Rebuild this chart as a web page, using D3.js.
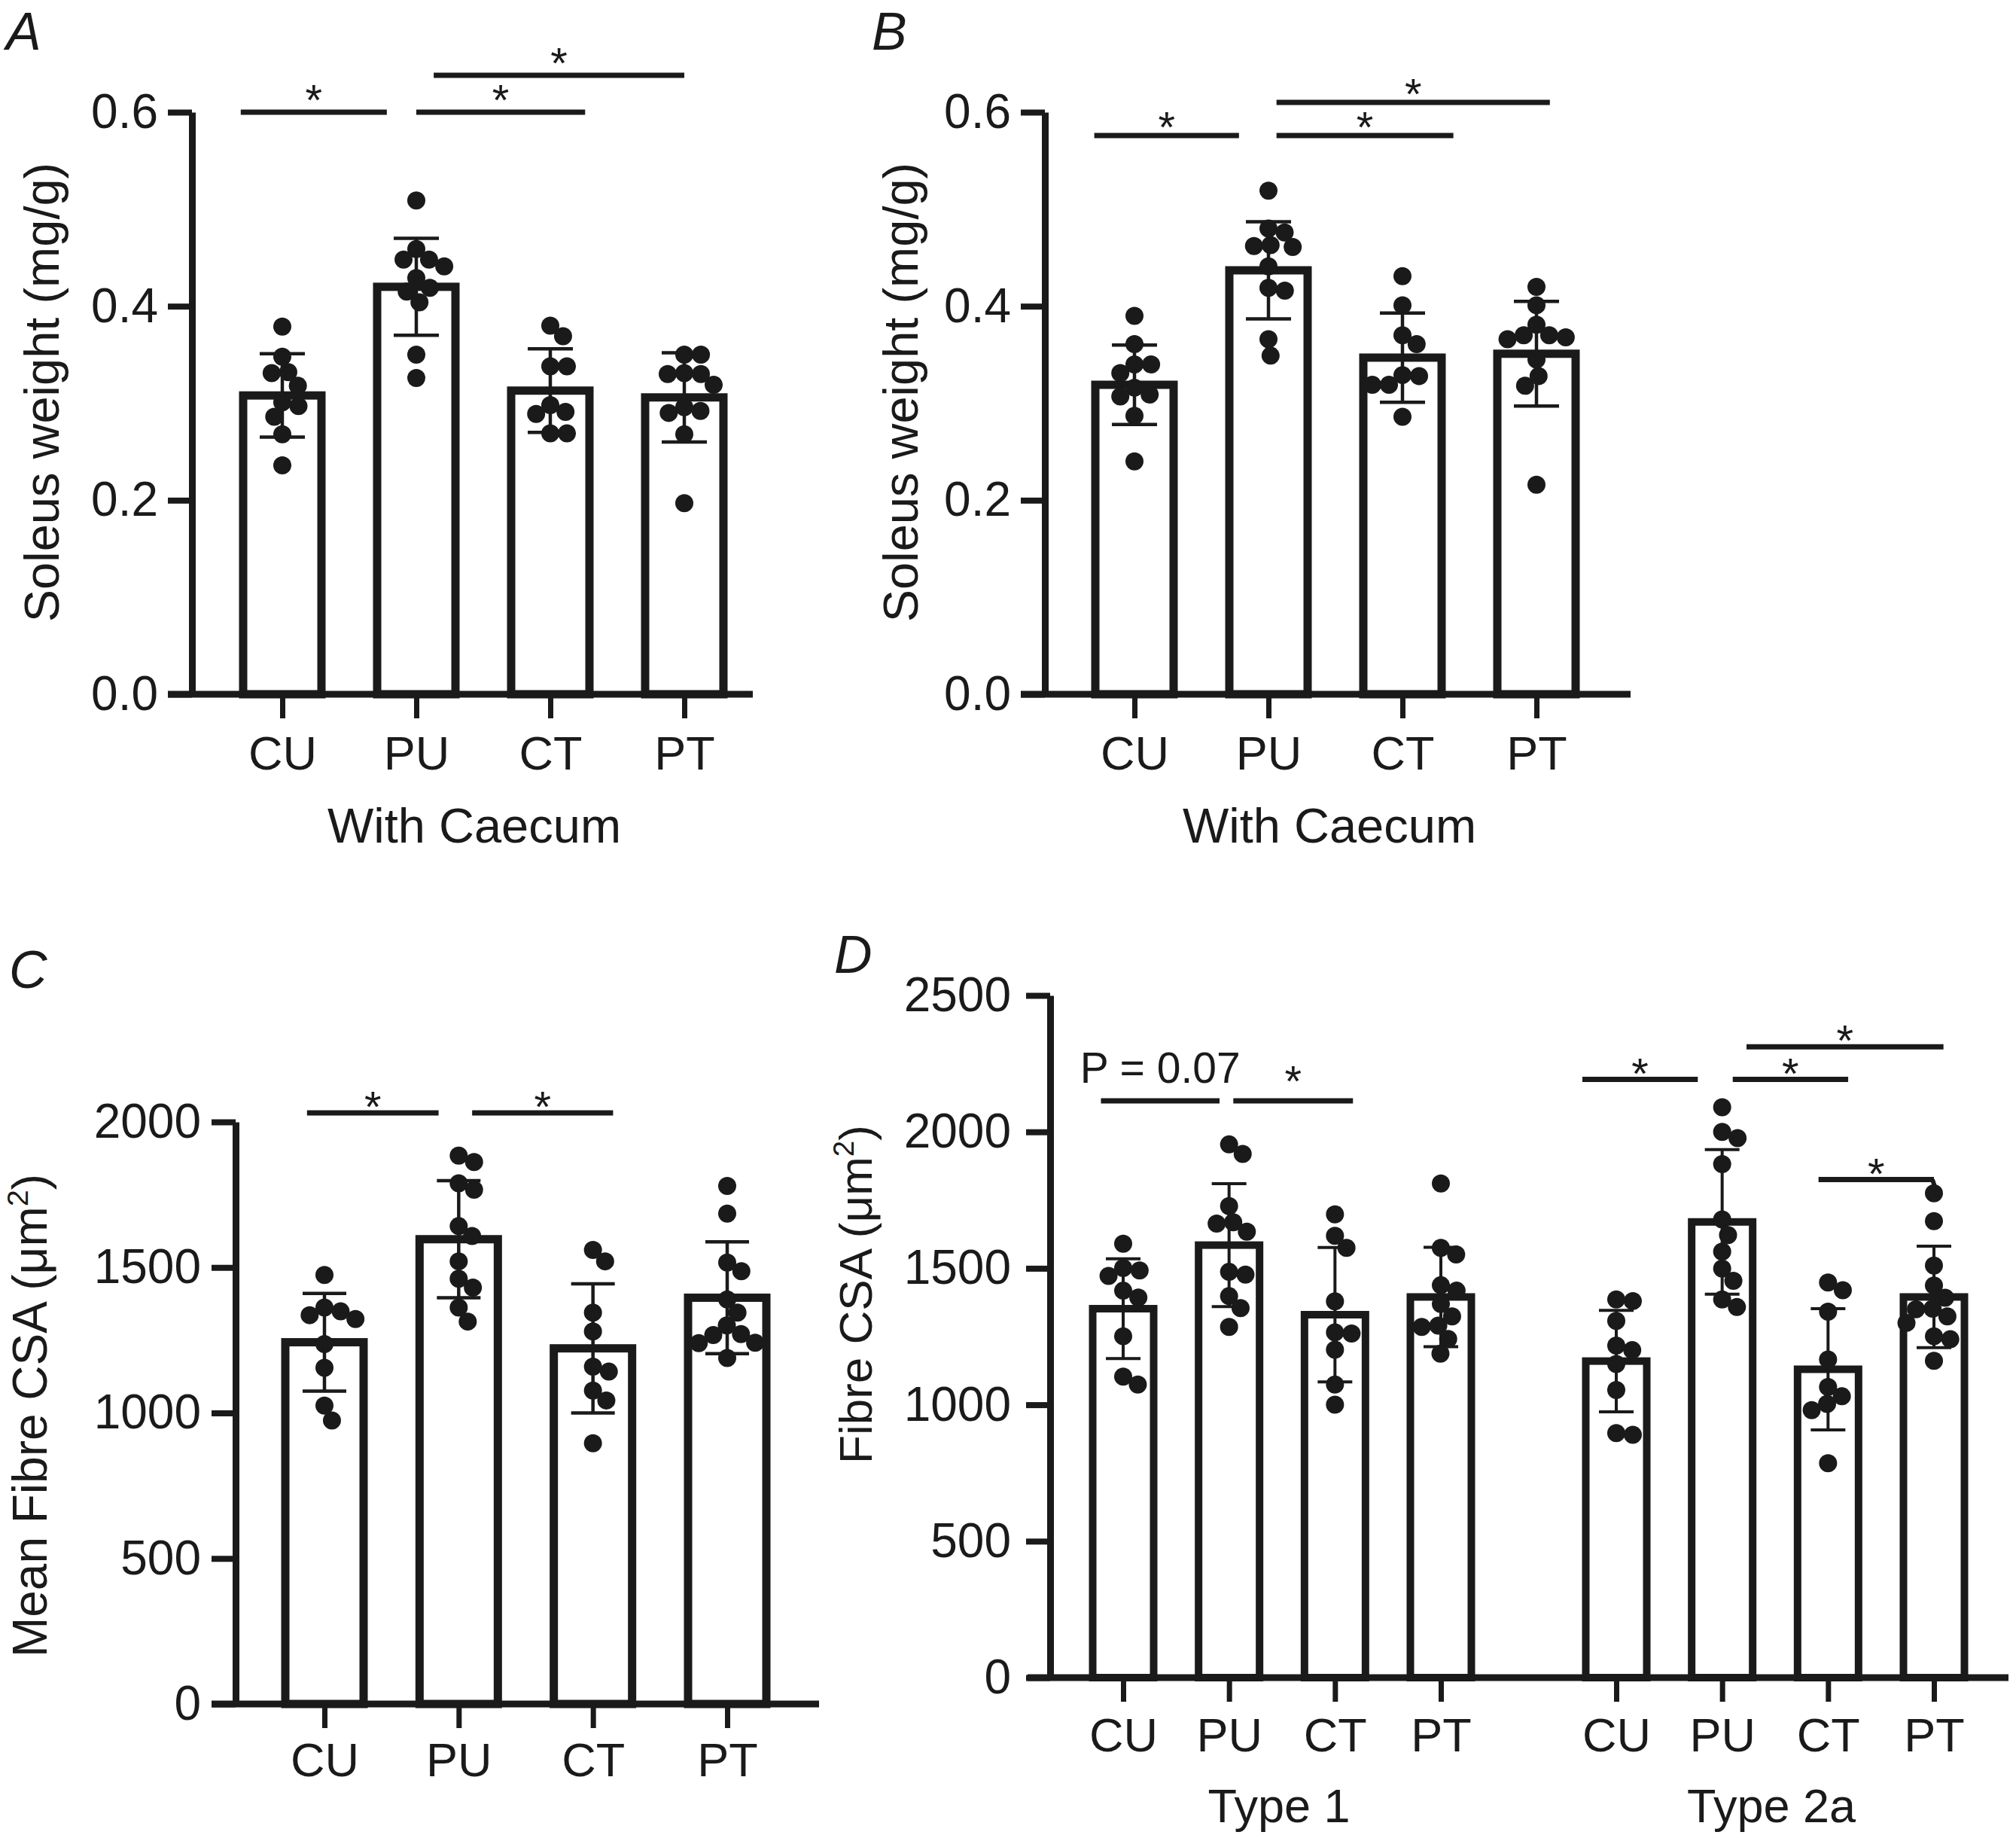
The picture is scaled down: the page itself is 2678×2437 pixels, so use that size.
<!DOCTYPE html>
<html><head><meta charset="utf-8">
<script src="https://cdn.jsdelivr.net/npm/d3@7"></script>
<style>
body{margin:0;background:#fff}
svg{display:block}
text{font-family:"Liberation Sans",Arial,Helvetica,sans-serif;fill:#1a1a1a}
</style>
</head><body>
<svg id="chart" width="2678" height="2437"></svg>
<script>
// ---------------- DATA ----------------
const groups = ["CU", "PU", "CT", "PT"];

// Panel A: Soleus weight (mg/g), with caecum
const aCU = [0.379, 0.348, 0.332, 0.331, 0.318, 0.301, 0.297, 0.286, 0.268, 0.236];
const aPU = [0.509, 0.459, 0.448, 0.448, 0.441, 0.429, 0.419, 0.415, 0.404, 0.350, 0.326];
const aCT = [0.380, 0.369, 0.338, 0.338, 0.298, 0.291, 0.289, 0.269, 0.269];
const aPT = [0.350, 0.350, 0.331, 0.330, 0.330, 0.319, 0.296, 0.292, 0.290, 0.268, 0.197];
const aMean = [0.308, 0.420, 0.313, 0.306];
const aSD = [0.043, 0.050, 0.043, 0.046];

// Panel B
const bCU = [0.390, 0.361, 0.340, 0.340, 0.331, 0.316, 0.309, 0.307, 0.287, 0.240];
const bPU = [0.519, 0.480, 0.476, 0.463, 0.462, 0.461, 0.441, 0.419, 0.416, 0.366, 0.349];
const bCT = [0.431, 0.401, 0.370, 0.361, 0.329, 0.328, 0.319, 0.319, 0.286];
const bPT = [0.420, 0.401, 0.381, 0.370, 0.370, 0.368, 0.366, 0.345, 0.328, 0.318, 0.216];
const bMean = [0.319, 0.437, 0.347, 0.351];
const bSD = [0.041, 0.050, 0.046, 0.054];

// Panel C: Mean fibre CSA (um2)
const cCU = [1474, 1362, 1349, 1336, 1323, 1237, 1155, 1025, 974];
const cPU = [1884, 1862, 1789, 1767, 1642, 1608, 1521, 1461, 1431, 1362, 1314];
const cCT = [1560, 1521, 1345, 1280, 1159, 1142, 1077, 1043, 896];
const cPT = [1780, 1685, 1517, 1487, 1390, 1345, 1301, 1271, 1268, 1241, 1240, 1189];
const cMean = [1243, 1597, 1222, 1396];
const cSD = [168, 201, 222, 192];

// Panel D: Fibre CSA by fibre type
const fibreTypes = ["Type 1", "Type 2a"];
const d1CU = [1590, 1501, 1492, 1472, 1418, 1393, 1251, 1103, 1074];
const d1PU = [1954, 1919, 1728, 1669, 1664, 1634, 1487, 1477, 1398, 1354, 1285];
const d1CT = [1698, 1619, 1575, 1379, 1265, 1261, 1202, 1074, 1000];
const d1PT = [1811, 1575, 1551, 1438, 1418, 1369, 1324, 1290, 1285, 1241, 1187];
const d1Mean = [1352, 1585, 1330, 1395];
const d1SD = [183, 225, 246, 182];
const d2CU = [1386, 1380, 1307, 1217, 1200, 1149, 1054, 896, 890];
const d2PU = [2090, 2000, 1977, 1882, 1679, 1622, 1561, 1499, 1454, 1386, 1358];
const d2CT = [1448, 1420, 1341, 1166, 1065, 1031, 1003, 980, 786];
const d2PT = [1775, 1673, 1510, 1437, 1392, 1352, 1350, 1324, 1300, 1251, 1240, 1161];
const d2Mean = [1160, 1670, 1130, 1395];
const d2SD = [186, 265, 222, 186];

// Tick values
const ticksAB = [0, 0.2, 0.4, 0.6];
const ticksC = [0, 500, 1000, 1500, 2000];
const ticksD = [0, 500, 1000, 1500, 2000, 2500];

// Significance annotations (span in category-index units, height in data units)
const sigA = [
  {group: null, from: -0.31, to: 0.78, y: 0.600, label: "*"},
  {group: null, from: 1.00, to: 2.26, y: 0.600, label: "*"},
  {group: null, from: 1.13, to: 3.00, y: 0.638, label: "*"}
];
const sigB = [
  {group: null, from: -0.30, to: 0.78, y: 0.576, label: "*"},
  {group: null, from: 1.06, to: 2.38, y: 0.576, label: "*"},
  {group: null, from: 1.06, to: 3.10, y: 0.610, label: "*"}
];
const sigC = [
  {group: null, from: -0.13, to: 0.85, y: 2031, label: "*"},
  {group: null, from: 1.10, to: 2.15, y: 2031, label: "*"}
];
const sigD = [
  {group: "Type 1", from: -0.21, to: 0.91, y: 2114, label: "P = 0.07", text: true},
  {group: "Type 1", from: 1.04, to: 2.17, y: 2114, label: "*", high: true},
  {group: "Type 2a", from: -0.32, to: 0.77, y: 2192, label: "*"},
  {group: "Type 2a", from: 1.10, to: 2.19, y: 2192, label: "*"},
  {group: "Type 2a", from: 1.23, to: 3.09, y: 2312, label: "*"},
  {group: "Type 2a", from: 1.91, to: 3.00, y: 1825, label: "*", hook: true}
];

// ---------------- DRAWING ----------------
const svg = d3.select("#chart");
const INK = "#1a1a1a";

function swarm(values, y, r) {
  const minD = 2 * r * 0.92;
  const placed = [];
  const sorted = values.map((v, i) => ({v, i, py: y(v)})).sort((a, b) => b.v - a.v);
  sorted.forEach(p => {
    const forb = [];
    placed.forEach(q => {
      const dy = Math.abs(q.py - p.py);
      if (dy < minD) {
        const dx = Math.sqrt(minD * minD - dy * dy);
        forb.push([q.dx - dx, q.dx + dx]);
      }
    });
    const cands = [0];
    forb.forEach(f => { cands.push(f[0] - 0.01, f[1] + 0.01); });
    cands.sort((a, b) => Math.abs(a) - Math.abs(b) || b - a);
    let best = 0;
    for (const c of cands) {
      if (!forb.some(f => c > f[0] && c < f[1])) { best = c; break; }
    }
    p.dx = best;
    placed.push(p);
  });
  return sorted;
}

function drawPanel(p) {
  const g = svg.append("g");
  const y = d3.scaleLinear().domain(p.yDomain).range([p.y0, p.yTop]);

  const series = p.series;
  g.append("g").selectAll("rect").data(series).join("rect")
    .attr("x", d => p.x(d.key) - p.barW / 2)
    .attr("y", d => y(d.mean))
    .attr("width", p.barW)
    .attr("height", d => p.y0 - y(d.mean))
    .attr("fill", "#fff").attr("stroke", INK).attr("stroke-width", p.barStroke);

  series.forEach(s => {
    const pts = swarm(s.values, y, p.r);
    g.append("g").selectAll("circle").data(pts).join("circle")
      .attr("cx", d => p.x(s.key) + d.dx)
      .attr("cy", d => d.py)
      .attr("r", p.r).attr("fill", INK);
  });

  const eb = g.append("g").attr("stroke", INK).attr("stroke-width", p.ebStroke);
  series.forEach(s => {
    const cx = p.x(s.key);
    eb.append("line").attr("x1", cx).attr("x2", cx).attr("y1", y(s.mean + s.sd)).attr("y2", y(s.mean - s.sd));
    eb.append("line").attr("x1", cx - p.capW / 2).attr("x2", cx + p.capW / 2).attr("y1", y(s.mean + s.sd)).attr("y2", y(s.mean + s.sd));
    eb.append("line").attr("x1", cx - p.capW / 2).attr("x2", cx + p.capW / 2).attr("y1", y(s.mean - s.sd)).attr("y2", y(s.mean - s.sd));
  });

  const ya = g.append("g").attr("transform", `translate(${p.axisX},0)`)
    .call(d3.axisLeft(y).tickValues(p.yTicks).tickFormat(p.fmt).tickSize(32).tickSizeOuter(0).tickPadding(p.tickPad));
  ya.select(".domain").attr("stroke", INK).attr("stroke-width", 9);
  ya.selectAll(".tick line").attr("stroke", INK).attr("stroke-width", 8);
  ya.selectAll(".tick text").attr("font-size", p.tickFont).attr("fill", INK)
    .style("font-family", "'Liberation Sans', Arial, sans-serif");

  g.append("line").attr("x1", p.xStart).attr("x2", p.xEnd).attr("y1", p.y0).attr("y2", p.y0)
    .attr("stroke", INK).attr("stroke-width", 9);
  const xa = g.append("g").attr("transform", `translate(0,${p.y0})`)
    .call(d3.axisBottom(p.x).tickSize(32).tickSizeOuter(0).tickFormat(k => k.split("|").pop()));
  xa.select(".domain").remove();
  xa.selectAll(".tick line").attr("stroke", INK).attr("stroke-width", 7);
  xa.selectAll(".tick text").attr("y", p.labelBase - p.y0).attr("dy", 0)
    .attr("font-size", p.catFont).attr("fill", INK)
    .style("font-family", "'Liberation Sans', Arial, sans-serif");

  (p.xTitles || []).forEach(t => {
    g.append("text").attr("x", t.x).attr("y", t.y).attr("text-anchor", "middle")
      .attr("font-size", t.size).text(t.text);
  });

  const yt = g.append("text").attr("transform", `translate(${p.yTitle.x},${p.yTitle.y}) rotate(-90)`)
    .attr("text-anchor", "middle").attr("dominant-baseline", "central").attr("font-size", p.yTitle.size);
  p.yTitle.parts.forEach(pt => {
    const ts = yt.append("tspan").text(pt.t);
    if (pt.sup) ts.attr("dy", "-0.42em").attr("font-size", "0.62em");
    if (pt.after) ts.attr("dy", "0.26em");
  });

  g.append("text").attr("x", p.letter.x).attr("y", p.letter.y).attr("font-size", 70)
    .attr("font-style", "italic").text(p.letter.t);

  const sg = g.append("g");
  p.sigs.forEach(s => {
    const x1 = p.fx(s.group, s.from), x2 = p.fx(s.group, s.to), yy = y(s.y);
    sg.append("line").attr("x1", x1).attr("x2", x2).attr("y1", yy).attr("y2", yy)
      .attr("stroke", INK).attr("stroke-width", 7);
    if (s.hook) {
      sg.append("line").attr("x1", x2 - 2).attr("x2", x2 + 2).attr("y1", yy).attr("y2", yy + 12)
        .attr("stroke", INK).attr("stroke-width", 6);
    }
    if (s.text) {
      sg.append("text").attr("x", (x1 + x2) / 2).attr("y", yy - 24).attr("text-anchor", "middle")
        .attr("font-size", 57).text(s.label);
    } else {
      sg.append("text").attr("x", (x1 + x2) / 2).attr("y", yy + (s.high ? p.starDyHigh : p.starDy))
        .attr("text-anchor", "middle").attr("font-size", 58).text(s.label);
    }
  });
}

function mkSeries(vals, means, sds, prefix) {
  return groups.map((k, i) => ({key: prefix ? prefix + "|" + k : k, values: vals[i], mean: means[i], sd: sds[i]}));
}

// Panel A
{
  const x = d3.scalePoint().domain(groups).range([375, 909]);
  drawPanel({
    series: mkSeries([aCU, aPU, aCT, aPT], aMean, aSD),
    x, fx: (g, i) => x(groups[0]) + i * x.step(),
    yDomain: [0, 0.6], y0: 922, yTop: 149, yTicks: ticksAB, fmt: d3.format(".1f"),
    axisX: 255, tickPad: 13, tickFont: 64, xStart: 223, xEnd: 1000,
    barW: 104, barStroke: 11, capW: 60, ebStroke: 4.5, r: 12,
    labelBase: 1022, catFont: 63,
    xTitles: [{x: 630, y: 1119, text: "With Caecum", size: 65}],
    yTitle: {x: 55, y: 521, size: 65, parts: [{t: "Soleus weight (mg/g)"}]},
    letter: {x: 8, y: 66, t: "A"},
    sigs: sigA, starDy: 4, starDyHigh: 4
  });
}
// Panel B
{
  const x = d3.scalePoint().domain(groups).range([1507, 2041]);
  drawPanel({
    series: mkSeries([bCU, bPU, bCT, bPT], bMean, bSD),
    x, fx: (g, i) => x(groups[0]) + i * x.step(),
    yDomain: [0, 0.6], y0: 922, yTop: 149, yTicks: ticksAB, fmt: d3.format(".1f"),
    axisX: 1388, tickPad: 13, tickFont: 64, xStart: 1356, xEnd: 2166,
    barW: 104, barStroke: 11, capW: 60, ebStroke: 4.5, r: 12,
    labelBase: 1022, catFont: 63,
    xTitles: [{x: 1766, y: 1119, text: "With Caecum", size: 65}],
    yTitle: {x: 1196, y: 521, size: 65, parts: [{t: "Soleus weight (mg/g)"}]},
    letter: {x: 1158, y: 66, t: "B"},
    sigs: sigB, starDy: 9, starDyHigh: 9
  });
}
// Panel C
{
  const x = d3.scalePoint().domain(groups).range([431, 966]);
  drawPanel({
    series: mkSeries([cCU, cPU, cCT, cPT], cMean, cSD),
    x, fx: (g, i) => x(groups[0]) + i * x.step(),
    yDomain: [0, 2000], y0: 2263, yTop: 1490, yTicks: ticksC, fmt: d3.format("d"),
    axisX: 313, tickPad: 14, tickFont: 64, xStart: 281, xEnd: 1088,
    barW: 104, barStroke: 11, capW: 58, ebStroke: 4.5, r: 12,
    labelBase: 2359, catFont: 63,
    xTitles: [],
    yTitle: {x: 40, y: 1880, size: 64, parts: [{t: "Mean Fibre CSA (μm"}, {t: "2", sup: true}, {t: ")", after: true}]},
    letter: {x: 12, y: 1312, t: "C"},
    sigs: sigC, starDy: 12, starDyHigh: 12
  });
}
// Panel D
{
  const outer = d3.scalePoint().domain(fibreTypes).range([1703, 2358]);
  const inner = d3.scalePoint().domain(groups).range([-211, 211]);
  const keys = [];
  fibreTypes.forEach(t => groups.forEach(c => keys.push(t + "|" + c)));
  const x = d3.scaleOrdinal().domain(keys).range(keys.map(k => {
    const [t, c] = k.split("|");
    return outer(t) + inner(c);
  }));
  const series = mkSeries([d1CU, d1PU, d1CT, d1PT], d1Mean, d1SD, "Type 1")
    .concat(mkSeries([d2CU, d2PU, d2CT, d2PT], d2Mean, d2SD, "Type 2a"));
  drawPanel({
    series,
    x, fx: (g, i) => outer(g) + inner(groups[0]) + i * inner.step(),
    yDomain: [0, 2500], y0: 2228, yTop: 1322, yTicks: ticksD, fmt: d3.format("d"),
    axisX: 1395, tickPad: 20, tickFont: 64, xStart: 1365, xEnd: 2668,
    barW: 81, barStroke: 10, capW: 46, ebStroke: 4, r: 12,
    labelBase: 2326, catFont: 63,
    xTitles: [{x: 1699, y: 2420, text: "Type 1", size: 63}, {x: 2353, y: 2420, text: "Type 2a", size: 63}],
    yTitle: {x: 1136, y: 1719, size: 62, parts: [{t: "Fibre CSA (μm"}, {t: "2", sup: true}, {t: ")", after: true}]},
    letter: {x: 1108, y: 1292, t: "D"},
    sigs: sigD, starDy: 12, starDyHigh: -6
  });
}
</script>
</body></html>
